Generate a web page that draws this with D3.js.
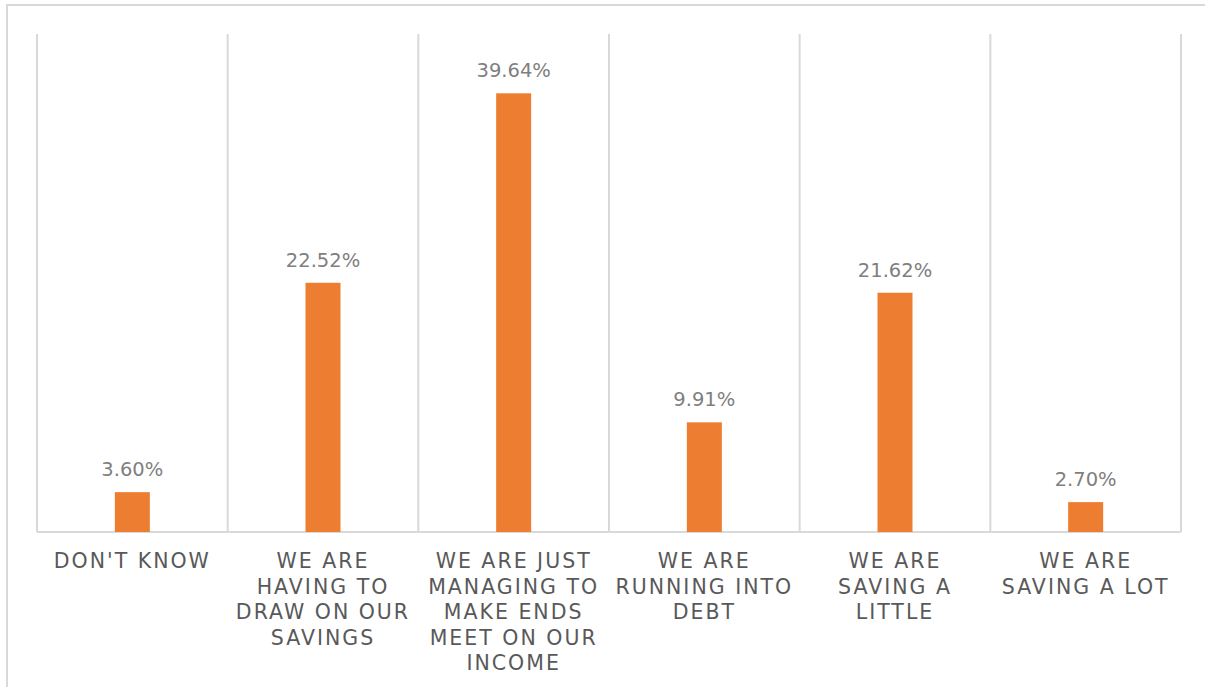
<!DOCTYPE html>
<html>
<head>
<meta charset="utf-8">
<script src="https://cdn.jsdelivr.net/npm/d3@7/dist/d3.min.js"></script>
<style>
  html, body { margin: 0; padding: 0; background: #fff; }
  svg { display: block; }
</style>
</head>
<body>
<svg id="chart" width="1205" height="687"></svg>
<script>
// Household financial situation, share of respondents
const categories = [
  "DON'T KNOW",
  "WE ARE\nHAVING TO\nDRAW ON OUR\nSAVINGS",
  "WE ARE JUST\nMANAGING TO\nMAKE ENDS\nMEET ON OUR\nINCOME",
  "WE ARE\nRUNNING INTO\nDEBT",
  "WE ARE\nSAVING A\nLITTLE",
  "WE ARE\nSAVING A LOT"
];
const values = [3.60, 22.52, 39.64, 9.91, 21.62, 2.70];
const yMax = 45;

const W = 1205, H = 687;
const plot = { left: 37, right: 1181, top: 34, bottom: 532 };

const svg = d3.select("#chart");

// outer chart frame
svg.append("rect")
  .attr("x", 7).attr("y", 5)
  .attr("width", W + 20).attr("height", H + 20)
  .attr("fill", "#fff")
  .attr("stroke", "#d9d9d9")
  .attr("stroke-width", 2);

const x = d3.scaleBand()
  .domain(categories)
  .range([plot.left, plot.right])
  .padding(0);

const y = d3.scaleLinear()
  .domain([0, yMax])
  .range([plot.bottom, plot.top]);

// vertical category separators
const edges = categories.map(c => x(c)).concat([plot.right]);
svg.append("g")
  .selectAll("line")
  .data(edges)
  .join("line")
  .attr("x1", d => d).attr("x2", d => d)
  .attr("y1", plot.top).attr("y2", plot.bottom)
  .attr("stroke", "#d9d9d9")
  .attr("stroke-width", 2);

// baseline
svg.append("line")
  .attr("x1", plot.left).attr("x2", plot.right)
  .attr("y1", y(0)).attr("y2", y(0))
  .attr("stroke", "#d9d9d9")
  .attr("stroke-width", 2);

const barW = x.bandwidth() * 0.1836;
const data = categories.map((c, i) => ({ c, v: values[i] }));

svg.append("g")
  .selectAll("rect")
  .data(data)
  .join("rect")
  .attr("x", d => x(d.c) + (x.bandwidth() - barW) / 2)
  .attr("y", d => y(d.v))
  .attr("width", barW)
  .attr("height", d => y(0) - y(d.v))
  .attr("fill", "#ED7D31");

// value labels
svg.append("g")
  .selectAll("text")
  .data(data)
  .join("text")
  .attr("x", d => x(d.c) + x.bandwidth() / 2)
  .attr("y", d => y(d.v) - 16)
  .attr("text-anchor", "middle")
  .attr("font-family", "DejaVu Sans, Verdana, sans-serif")
  .attr("font-size", 19.5)
  .attr("fill", "#7f7f7f")
  .text(d => d.v.toFixed(2) + "%");

// category labels
const ls = 2.0;
const cat = svg.append("g")
  .selectAll("text")
  .data(categories)
  .join("text")
  .attr("text-anchor", "middle")
  .attr("font-family", "DejaVu Sans, Verdana, sans-serif")
  .attr("font-size", 20.5)
  .attr("letter-spacing", ls)
  .attr("fill", "#595959");

cat.each(function(c) {
  const t = d3.select(this);
  const cx = x(c) + x.bandwidth() / 2;
  c.split("\n").forEach((line, i) => {
    t.append("tspan")
      .attr("x", cx)
      .attr("y", 568 + i * 25.5)
      .text(line);
  });
});
</script>
</body>
</html>
